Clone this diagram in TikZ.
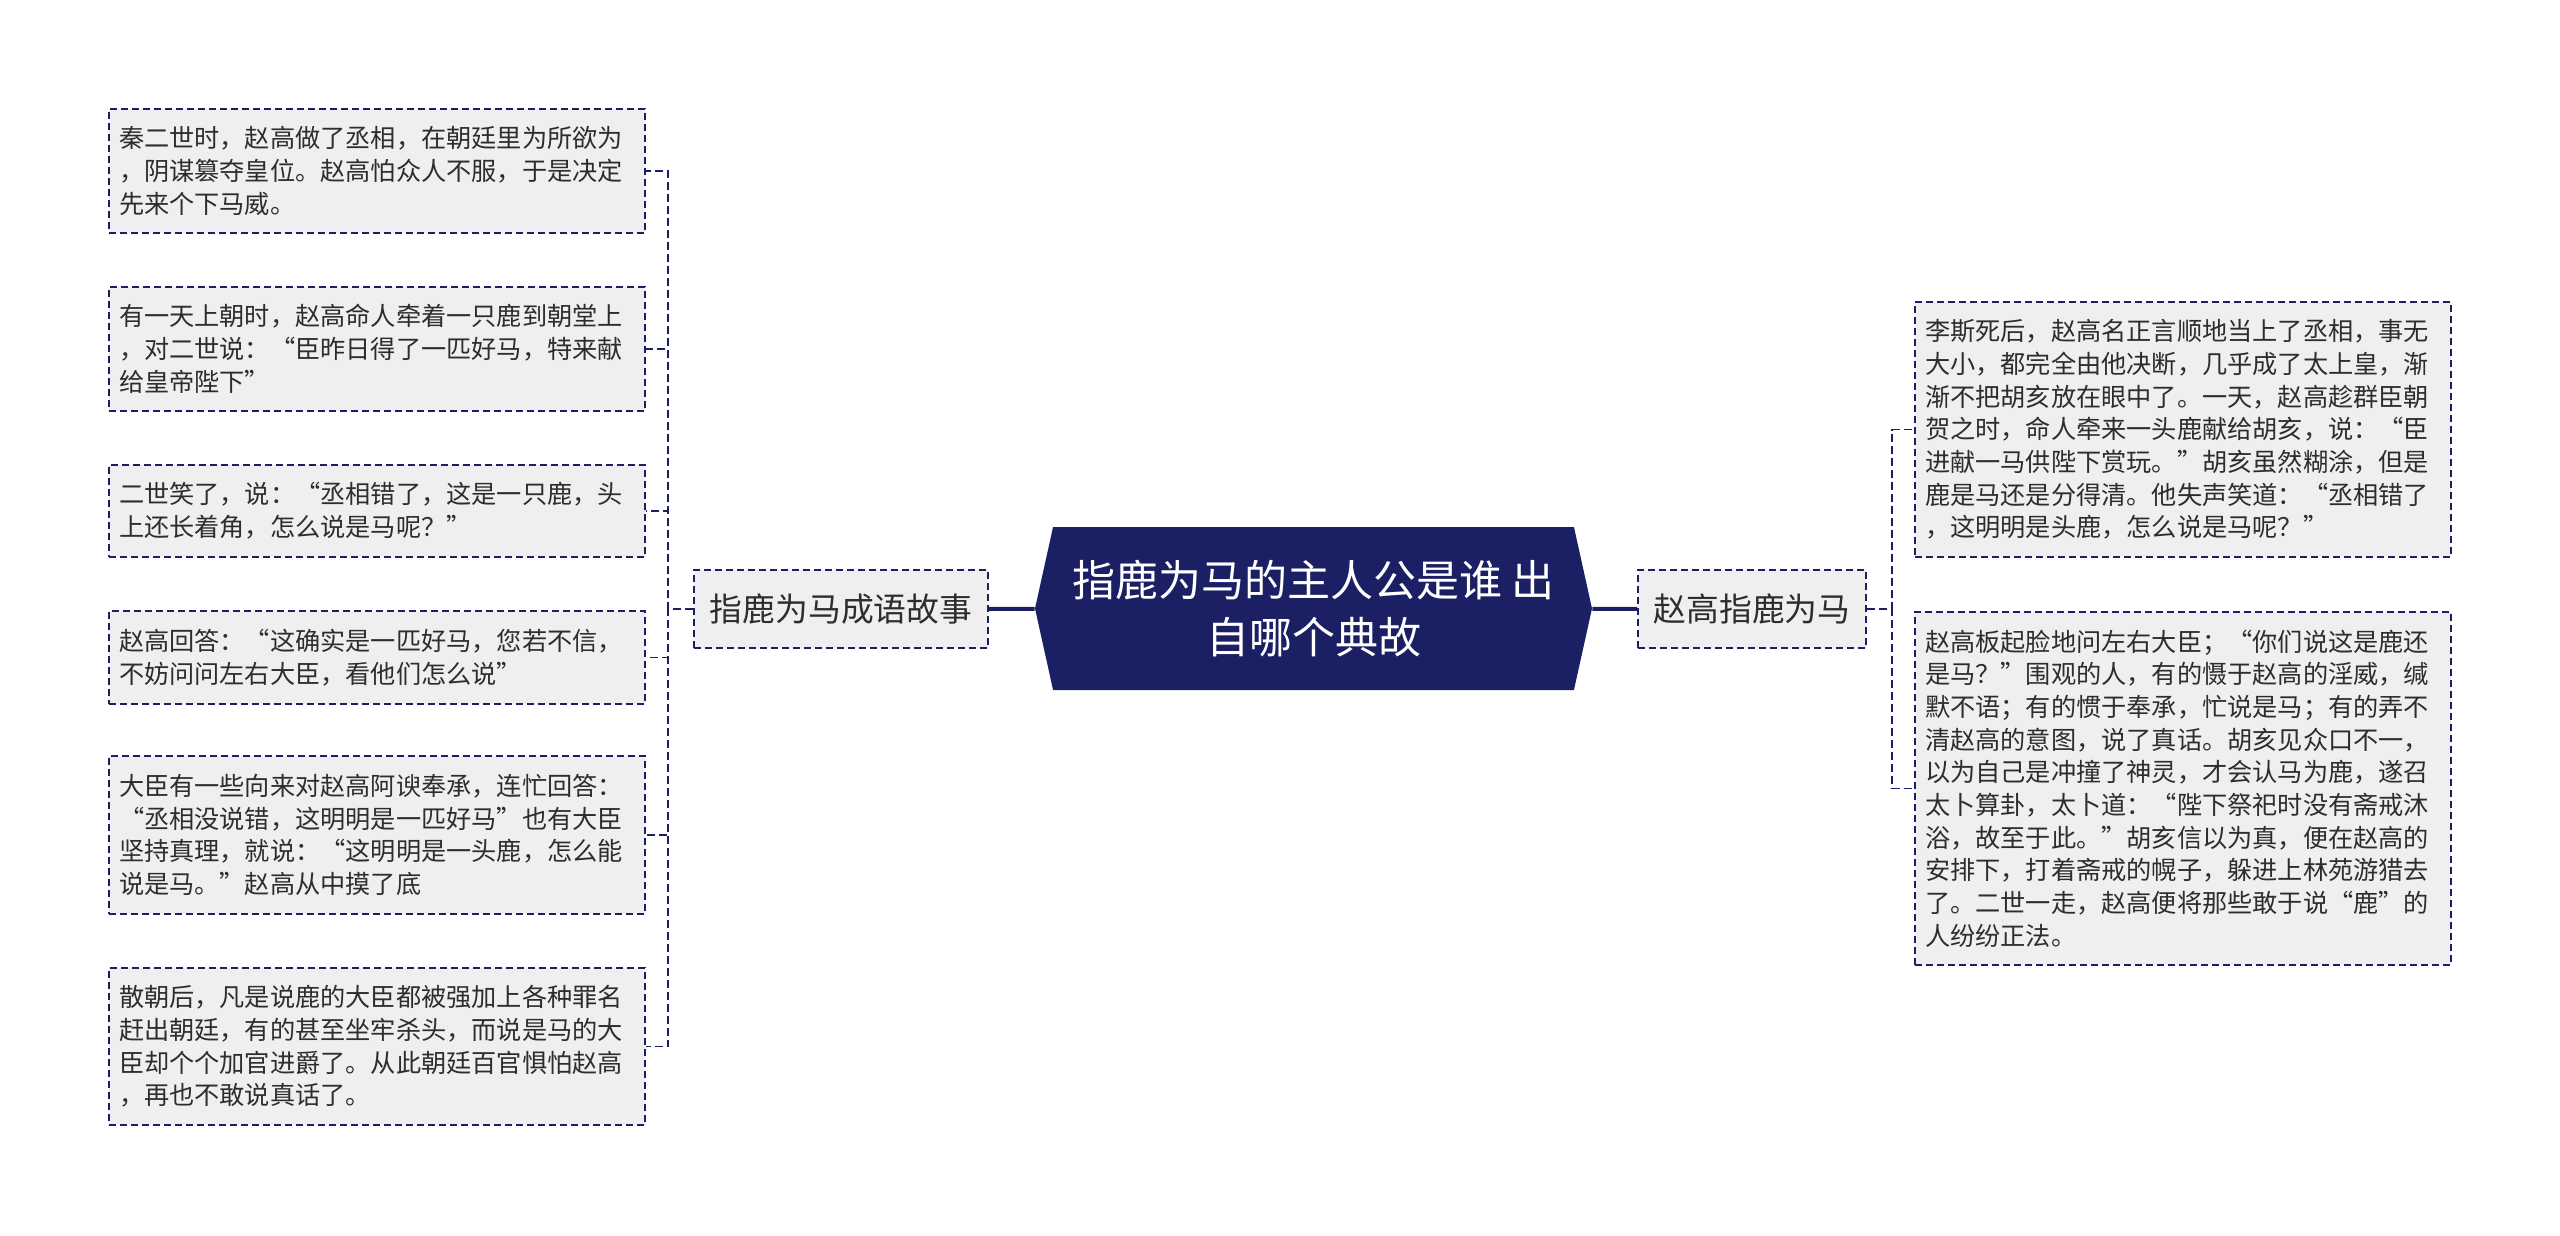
\documentclass[tikz,border=0pt]{standalone}
\usepackage{fontspec}
\setmainfont{Noto Sans CJK SC}
\usetikzlibrary{shapes.symbols}
\definecolor{navy}{RGB}{27,32,100}
\definecolor{leafbg}{RGB}{239,239,239}
\definecolor{txt}{RGB}{45,45,45}
\begin{document}
\begin{tikzpicture}[x=0.5pt,y=-0.5pt,
 leaf/.style={draw=navy, fill=leafbg, line width=1pt, dash pattern=on 3.5pt off 2pt, text=txt, align=left, text width=258pt, inner xsep=5pt, inner ysep=0pt, font=\fontsize{12.6pt}{16.35pt}\selectfont},
 branch/.style={draw=navy, fill=leafbg, line width=1pt, dash pattern=on 3.5pt off 2pt, text=txt, font=\fontsize{16.4pt}{20pt}\selectfont, inner sep=0pt, minimum height=39pt},
 link/.style={draw=navy, line width=0.7pt, dash pattern=on 4pt off 2pt},
 mainlink/.style={draw=navy, line width=2pt},
 mainbox/.style={shape=signal, signal to=west and east, signal pointer angle=155, fill=navy, text=white, align=center, minimum width=278.5pt, minimum height=81.5pt, inner sep=0pt, font=\fontsize{21.5pt}{28.6pt}\selectfont}
]
\useasboundingbox[fill=white] (0,0) rectangle (2560,1236);

\node[mainbox] (c) at (1313.5,608.5) {指鹿为马的主人公是谁 出\\自哪个典故};
\node[branch, minimum width=147pt] (lb) at (841,609) {指鹿为马成语故事};
\node[branch, minimum width=114pt] (rb) at (1752,609) {赵高指鹿为马};

\node[leaf, minimum height=62pt] (l1) at (377,171) {秦二世时，赵高做了丞相，在朝廷里为所欲为\\，阴谋篡夺皇位。赵高怕众人不服，于是决定\\先来个下马威。};
\node[leaf, minimum height=62pt] (l2) at (377,349) {有一天上朝时，赵高命人牵着一只鹿到朝堂上\\，对二世说：“臣昨日得了一匹好马，特来献\\给皇帝陛下”};
\node[leaf, minimum height=46pt] (l3) at (377,511) {二世笑了，说：“丞相错了，这是一只鹿，头\\上还长着角，怎么说是马呢？”};
\node[leaf, minimum height=46.5pt] (l4) at (377,657.5) {赵高回答：“这确实是一匹好马，您若不信，\\不妨问问左右大臣，看他们怎么说”};
\node[leaf, minimum height=79pt] (l5) at (377,835) {大臣有一些向来对赵高阿谀奉承，连忙回答：\\“丞相没说错，这明明是一匹好马”也有大臣\\坚持真理，就说：“这明明是一头鹿，怎么能\\说是马。”赵高从中摸了底};
\node[leaf, minimum height=78.5pt] (l6) at (377,1046.5) {散朝后，凡是说鹿的大臣都被强加上各种罪名\\赶出朝廷，有的甚至坐牢杀头，而说是马的大\\臣却个个加官进爵了。从此朝廷百官惧怕赵高\\，再也不敢说真话了。};

\node[leaf, minimum height=127.5pt] (r1) at (2183,429.5) {李斯死后，赵高名正言顺地当上了丞相，事无\\大小，都完全由他决断，几乎成了太上皇，渐\\渐不把胡亥放在眼中了。一天，赵高趁群臣朝\\贺之时，命人牵来一头鹿献给胡亥，说：“臣\\进献一马供陛下赏玩。”胡亥虽然糊涂，但是\\鹿是马还是分得清。他失声笑道：“丞相错了\\，这明明是头鹿，怎么说是马呢？”};
\node[leaf, minimum height=176.5pt] (r2) at (2183,788.5) {赵高板起脸地问左右大臣；“你们说这是鹿还\\是马？”围观的人，有的慑于赵高的淫威，缄\\默不语；有的惯于奉承，忙说是马；有的弄不\\清赵高的意图，说了真话。胡亥见众口不一，\\以为自己是冲撞了神灵，才会认马为鹿，遂召\\太卜算卦，太卜道：“陛下祭祀时没有斋戒沐\\浴，故至于此。”胡亥信以为真，便在赵高的\\安排下，打着斋戒的幌子，躲进上林苑游猎去\\了。二世一走，赵高便将那些敢于说“鹿”的\\人纷纷正法。};

\draw[mainlink] (c) -- (lb);
\draw[mainlink] (c) -- (rb);
\foreach \n in {l1,l2,l3,l4,l5,l6} \draw[link] (lb.west) -- ++(-25,0) |- (\n.east);
\foreach \n in {r1,r2} \draw[link] (rb.east) -- ++(25,0) |- (\n.west);
\end{tikzpicture}
\end{document}
